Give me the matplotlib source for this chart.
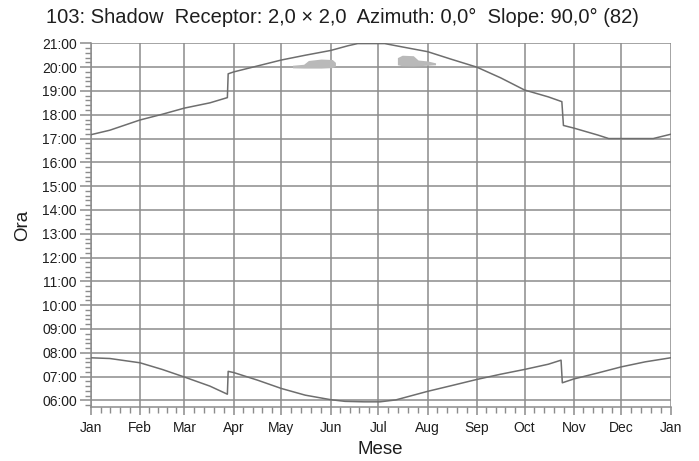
import numpy as np
import matplotlib
matplotlib.use("Agg")
import matplotlib.pyplot as plt
from matplotlib.ticker import FixedLocator, FuncFormatter

plt.rcParams['font.family'] = ['Liberation Sans', 'DejaVu Sans']

# Month starts (day of year) and labels
month_days = [0, 31, 59, 90, 120, 151, 181, 212, 243, 273, 304, 334, 365]
month_labels = ['Jan', 'Feb', 'Mar', 'Apr', 'May', 'Jun', 'Jul', 'Aug',
                'Sep', 'Oct', 'Nov', 'Dec', 'Jan']
hour_ticks = list(range(6, 22))

# Sunset line (day of year, decimal hours, local time with DST)
sunset_day = [0, 12, 31, 45, 59, 75, 86, 86.5, 90, 105, 120, 135, 151, 162,
              168, 185, 196, 212, 227, 243, 258, 273, 288, 296.5, 297.5, 304,
              319, 326, 345, 354, 365]
sunset_hr = [17.16, 17.35, 17.78, 18.02, 18.28, 18.5, 18.72, 19.72, 19.8, 20.05,
             20.3, 20.5, 20.7, 20.9, 20.99, 20.99, 20.85, 20.65, 20.33, 20.0,
             19.55, 19.04, 18.75, 18.55, 17.55, 17.44, 17.15, 17.0, 17.0, 17.0,
             17.18]

# Sunrise line
sunrise_day = [0, 12, 31, 45, 59, 75, 86, 86.5, 90, 105, 120, 135, 151, 160,
               172, 182, 192, 212, 227, 243, 258, 273, 288, 296, 296.8, 304,
               319, 334, 349, 365]
sunrise_hr = [7.79, 7.76, 7.58, 7.3, 6.98, 6.6, 6.26, 7.22, 7.17, 6.85, 6.5,
              6.22, 6.03, 5.96, 5.94, 5.94, 6.02, 6.38, 6.62, 6.88, 7.1, 7.3,
              7.52, 7.69, 6.74, 6.9, 7.15, 7.41, 7.62, 7.79]

# Shadow periods on the receptor
shadow1_day = [127, 134, 137, 145, 152, 154]
shadow1_low = [19.97, 19.96, 19.96, 19.96, 19.98, 20.04]
shadow1_high = [20.08, 20.12, 20.28, 20.34, 20.32, 20.2]

shadow2_day = [193, 196, 203, 206, 212, 217]
shadow2_low = [20.1, 20.06, 20.05, 20.06, 20.08, 20.1]
shadow2_high = [20.4, 20.5, 20.48, 20.3, 20.26, 20.18]

grid_col = '#8c8c8c'
line_col = '#6e6e6e'
text_col = '#1e1e1e'

fig = plt.figure(figsize=(6.99, 4.61), dpi=100)
ax = fig.add_axes([0.1298, 0.117, 0.8297, 0.789])

ax.fill_between(shadow1_day, shadow1_low, shadow1_high, color='#b9b9b9', lw=0, zorder=2)
ax.fill_between(shadow2_day, shadow2_low, shadow2_high, color='#b9b9b9', lw=0, zorder=2)
ax.plot(sunset_day, sunset_hr, color=line_col, lw=1.1, zorder=3)
ax.plot(sunrise_day, sunrise_hr, color=line_col, lw=1.1, zorder=3)

ax.set_xlim(0, 365)
ax.set_ylim(5.72, 21.0)

ax.xaxis.set_major_locator(FixedLocator(month_days))
ax.set_xticklabels(month_labels)
minor_x = []
for a, b in zip(month_days[:-1], month_days[1:]):
    minor_x += [a + (b - a) * k / 5 for k in range(1, 5)]
ax.xaxis.set_minor_locator(FixedLocator(minor_x))

ax.yaxis.set_major_locator(FixedLocator(hour_ticks))
ax.yaxis.set_major_formatter(FuncFormatter(lambda v, p: '%02d:00' % int(round(v))))
ax.yaxis.set_minor_locator(FixedLocator([h + k / 5 for h in range(5, 21) for k in range(1, 5)]))

ax.grid(True, which='major', color=grid_col, lw=1.1, zorder=1)
ax.set_axisbelow(True)

for s in ['top', 'right']:
    ax.spines[s].set_visible(False)
for s in ['left', 'bottom']:
    ax.spines[s].set_color(grid_col)
    ax.spines[s].set_linewidth(1.1)

ax.tick_params(axis='x', which='major', length=6, width=1.1, color=grid_col,
               labelsize=10, labelcolor=text_col, pad=4)
ax.tick_params(axis='x', which='minor', length=4, width=1.0, color=grid_col)
ax.tick_params(axis='y', which='major', length=8, width=1.1, color=grid_col,
               labelsize=10, labelcolor=text_col, pad=2)
ax.tick_params(axis='y', which='minor', length=4, width=1.0, color=grid_col)

ax.set_xlabel('Mese', fontsize=13.5, color=text_col, labelpad=4)
ax.set_ylabel('Ora', fontsize=13.5, color=text_col, labelpad=8)
fig.text(0.49, 0.962, '103: Shadow  Receptor: 2,0 \u00d7 2,0  Azimuth: 0,0\u00b0  Slope: 90,0\u00b0 (82)',
         fontsize=14.5, color=text_col, ha='center', va='center')

fig.savefig('out.png', dpi=100)
